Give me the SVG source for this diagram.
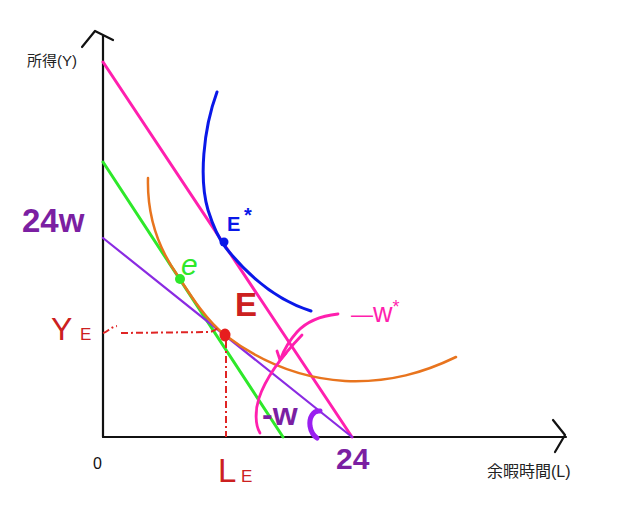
<svg xmlns="http://www.w3.org/2000/svg" width="620" height="505" viewBox="0 0 620 505">
<style>
.ax{fill:none;stroke:#111;stroke-width:2.2;stroke-linecap:round;stroke-linejoin:round}
.jp{font-family:"Liberation Sans","Noto Sans CJK JP",sans-serif;fill:#222}
.lab{font-family:"Liberation Sans",Arial,sans-serif}
.pk{stroke:#ff1fae}
.ln{fill:none;stroke-linecap:round;stroke-linejoin:round}
.dash{fill:none;stroke:#e02424;stroke-width:2;stroke-dasharray:7 3 2 3}
</style>
<rect width="620" height="505" fill="#fff"/>
<g id="axes">
<path class="ax" d="M103,437 L103,36"/>
<path class="ax" d="M82,47 L95,31 L113,40"/>
<path class="ax" d="M103,437 L566,437"/>
<path class="ax" d="M553,420 L565,435 L555,452"/>
<text class="jp" x="27" y="66" font-size="15">所得(Y)</text>
<text class="jp" x="487" y="477" font-size="16">余暇時間(L)</text>
<text class="lab" x="93" y="469" font-size="16" fill="#111">0</text>
</g>
<g id="connectors">
<path class="ln pk" stroke-width="3" d="M103,62 L352,437"/>
<path class="ln" stroke="#2ee82a" stroke-width="3" d="M103,162 L283,437"/>
<path class="ln" stroke="#8a2be2" stroke-width="2.2" d="M103,238 L352,437"/>
<path class="ln" stroke="#e8741e" stroke-width="2.5" d="M148,178 C147,215 158,248 178,276 C192,298 208,322 225,335 C255,358 295,378 345,381 C390,383 425,372 456,357"/>
<path class="ln" stroke="#0a18e8" stroke-width="3" d="M217,92 C203,130 199,180 208,210 C213,226 218,238 226,248 C242,268 270,298 311,311"/>
<path class="dash" d="M103,333 C108,332 110,327 117,326"/>
<path class="dash" d="M121,333 L210,332 C214,331 217,329 219,327"/>
<path class="dash" d="M226,341 L226,437"/>
<path class="ln pk" stroke-width="2.8" d="M338,314 C320,316 306,322 297,332 C289,341 284,350 281,358"/>
<path class="ln pk" stroke-width="2.8" d="M277,351 L280,360 L286,353"/>
<path class="ln pk" stroke-width="2.8" d="M260,433 C255,425 255,410 259,398 C265,380 280,358 302,335"/>
<path class="ln" stroke="#9a1ff0" stroke-width="5" d="M320,411 C313,410 309,418 310,426 C311,432 314,436 317,438"/>
</g>
<g id="E-star">
<circle cx="224" cy="242" r="4.5" fill="#0a18e8"/>
<text class="lab" x="227" y="231" font-size="20" font-weight="bold" fill="#0a18e8">E</text>
<text class="lab" x="244" y="222" font-size="20" font-weight="bold" fill="#0a18e8">*</text>
</g>
<g id="e">
<circle cx="180" cy="279" r="5" fill="#2ee82a"/>
<text class="lab" x="181" y="275" font-size="30" font-style="italic" fill="#2ee82a">e</text>
</g>
<g id="E">
<ellipse cx="225" cy="335" rx="5.5" ry="6.5" fill="#e61e1e"/>
<text class="lab" x="235" y="316" font-size="33" font-weight="bold" fill="#cc2020">E</text>
</g>
<g id="labels">
<text class="lab" x="22" y="232" font-size="33" font-weight="bold" fill="#7b1fa2">24w</text>
<text class="lab" x="51" y="340" font-size="32" fill="#cc2020">Y</text>
<text class="lab" x="80" y="340" font-size="17" fill="#cc2020">E</text>
<text class="lab" x="218" y="482" font-size="33" fill="#cc2020" textLength="16">L</text>
<text class="lab" x="241" y="482" font-size="17" fill="#cc2020">E</text>
<text class="lab" x="336" y="469" font-size="30" font-weight="bold" fill="#7b1fa2">24</text>
<text class="lab" x="262" y="425" font-size="32" font-weight="bold" fill="#7b1fa2">-w</text>
<text class="lab" x="351" y="322" font-size="22" fill="#ff1fae">—<tspan font-size="27">w</tspan><tspan font-size="18" dy="-9">*</tspan></text>
</g>
</svg>
